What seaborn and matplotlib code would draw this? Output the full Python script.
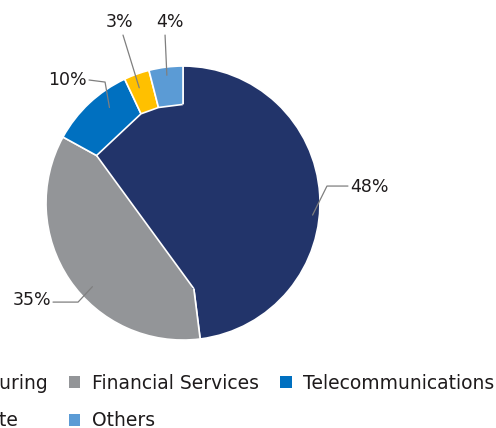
import numpy as np
import matplotlib
matplotlib.use("Agg")
import matplotlib.pyplot as plt
import seaborn as sns
from matplotlib.patches import Polygon

# Sector breakdown
sectors = ["Manufacturing", "Financial Services", "Telecommunications", "Real Estate", "Others"]
shares = [48, 35, 10, 3, 4]
pct_labels = ["48%", "35%", "10%", "3%", "4%"]
colors = ["#22346a", "#939598", "#0070c0", "#ffc000", "#5b9bd5"]

sns.set_theme(style="white")
plt.rcParams["font.family"] = ["DejaVu Sans"]
TEXT = "#1e1b1c"
FS_LEG = 13.5
FS_LAB = 12.5

fig = plt.figure(figsize=(4.96, 4.28), dpi=100)
ax = fig.add_axes([0, 0, 1, 1])

wedges, _ = ax.pie(
    shares, colors=colors, startangle=90, counterclock=False, radius=1,
    wedgeprops=dict(edgecolor="white", linewidth=1.2),
)
ax.set_xlim(-1.336, 2.285)
ax.set_ylim(-1.642, 1.482)
ax.set_aspect("auto")
ax.axis("off")


def polar(deg, r):
    a = np.deg2rad(deg)
    return r * np.cos(a), r * np.sin(a)


# Navy hub: the main slice fills the inner part of the disc, the smaller
# slices become outer bands joined by straight chords.
navy = wedges[0]
hub_r = 0.72
bounds = [(navy.theta1, 0.63)] + [(w.theta1, hub_r) for w in wedges[1:]] + [(navy.theta2, hub_r)]
chord = [polar(a, r) for a, r in bounds]
hub = Polygon([(0, 0)] + chord, closed=True, facecolor=colors[0],
              edgecolor="none", zorder=3)
ax.add_patch(hub)
# hide the main slice's radial edges inside the hub
for p in (chord[0], chord[-1]):
    ax.plot([0, p[0]], [0, p[1]], color=colors[0], lw=2.6, zorder=3.5,
            solid_capstyle="butt")
cx, cy = zip(*chord)
ax.plot(cx, cy, color="white", lw=1.2, zorder=4, solid_capstyle="butt")

# Leader lines and value labels
mids = [(w.theta1 + w.theta2) / 2 for w in wedges]
label_layout = [
    dict(shift=-8.9, r=0.95, path=[(1.051, 0.124), (1.204, 0.124)], text=(1.22, 0.117), ha="left"),
    dict(shift=8.5, r=0.90, path=[(-0.766, -0.723), (-0.949, -0.723)], text=(-0.964, -0.708), ha="right"),
    dict(shift=-5.6, r=0.88, path=[(-0.569, 0.883), (-0.686, 0.898)], text=(-0.705, 0.898), ha="right"),
    dict(shift=1.0, r=0.90, path=[(-0.438, 1.226)], text=(-0.467, 1.325), ha="center"),
    dict(shift=0.0, r=0.94, path=[(-0.131, 1.226)], text=(-0.095, 1.325), ha="center"),
]
for mid, lab, lay in zip(mids, pct_labels, label_layout):
    p0 = polar(mid + lay["shift"], lay["r"])
    pts = [p0] + lay["path"]
    xs, ys = zip(*pts)
    ax.plot(xs, ys, color="#7f7f7f", lw=0.9, zorder=5)
    ax.text(*lay["text"], lab, ha=lay["ha"], va="center", fontsize=FS_LAB,
            color=TEXT, zorder=6)

# Legend laid out row by row across three columns
order = [0, 3, 1, 4, 2]
leg = fig.legend(
    [wedges[i] for i in order], [sectors[i] for i in order],
    ncol=3, loc="upper right", bbox_to_anchor=(494.5 / 496, 1 - 374 / 428),
    frameon=False, fontsize=FS_LEG, borderpad=0, borderaxespad=0,
    handlelength=0.6, handleheight=0.6, handletextpad=0.62,
    columnspacing=1.15, labelspacing=0.98,
)
for t in leg.get_texts():
    t.set_color(TEXT)
for h in leg.legend_handles:
    h.set_edgecolor("none")

fig.savefig("out.png", dpi=100)
